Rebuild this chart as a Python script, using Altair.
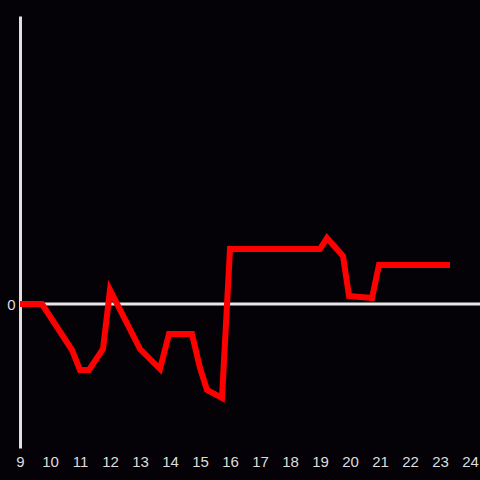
import altair as alt
import pandas as pd

xs = [9, 9.733, 10.733, 11, 11.3, 11.767, 12, 13, 13.667, 13.967, 14.733, 15, 15.233,
      15.733, 16, 19, 19.233, 19.767, 19.967, 20.733, 20.967, 23.333]
ys = [0, 0, -4.6, -6.6, -6.6, -4.5, 1.4, -4.5, -6.5, -3.0, -3.0, -6.4, -8.6,
      -9.4, 5.5, 5.5, 6.6, 4.8, 0.8, 0.6, 3.9, 3.9]
x_ticks = list(range(9, 25))

df = pd.DataFrame({"x": xs, "y": ys})
zero = pd.DataFrame({"y": [0]})

xscale = alt.Scale(domain=[9, 24.333], nice=False, zero=False)
yscale = alt.Scale(domain=[-14.4, 28.8], nice=False, zero=False)

line = alt.Chart(df).mark_line(color="#ff0000", strokeWidth=6, strokeJoin="miter", clip=True).encode(
    x=alt.X("x:Q", scale=xscale,
            axis=alt.Axis(values=x_ticks, title=None, domain=False, ticks=False, grid=False,
                          labelColor="#dddddd", labelFontSize=15, labelPadding=6,
                          labelFont="Liberation Sans", labelFlush=False)),
    y=alt.Y("y:Q", scale=yscale,
            axis=alt.Axis(values=[0], title=None, domain=True, domainColor="#e0e0e0",
                          domainWidth=3, ticks=False, grid=False, labelColor="#dddddd",
                          labelFontSize=15, labelPadding=5, labelFont="Liberation Sans")),
)

rule = alt.Chart(zero).mark_rule(color="#e6e6e6", strokeWidth=3).encode(y=alt.Y("y:Q", scale=yscale))

chart = alt.layer(rule, line).properties(
    width=460, height=432,
    background="#040206",
    padding={"left": 20, "top": 16, "right": 0, "bottom": 24},
    autosize=alt.AutoSizeParams(type="none"),
).configure_view(strokeWidth=0)

chart.save("out.html", embed_options={"renderer": "svg", "actions": False,
                                      "defaultStyle": "html,body{margin:0;padding:0;background:#040206;overflow:hidden}.vega-embed{display:block}"})
